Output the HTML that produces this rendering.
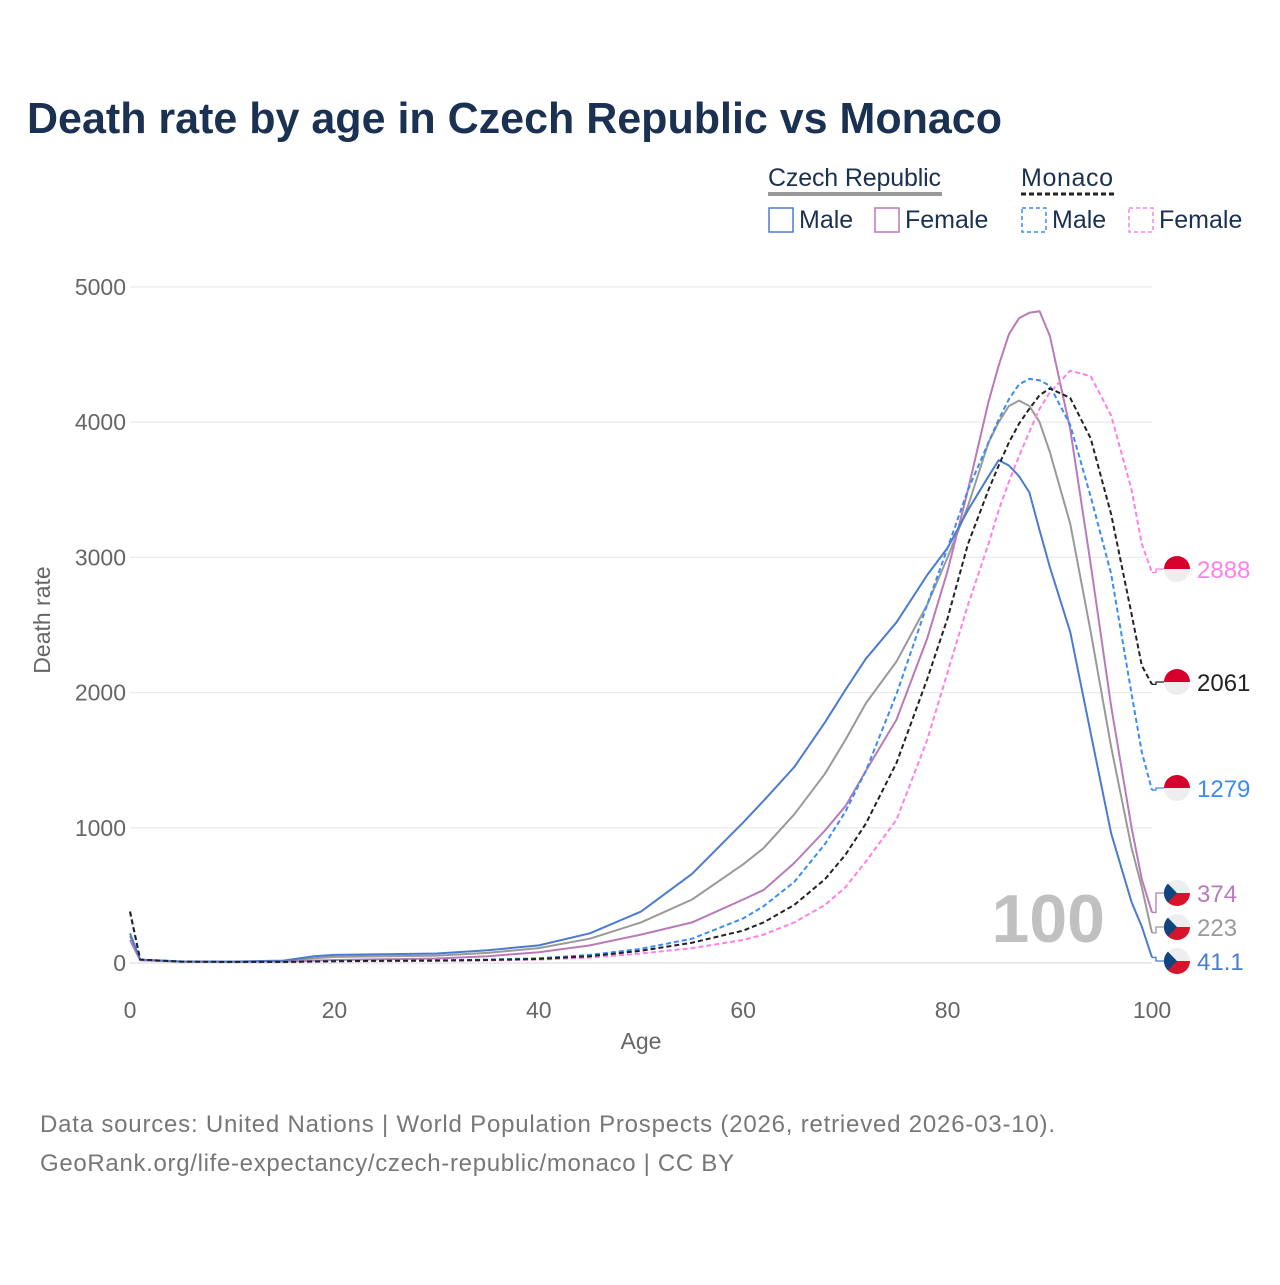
<!DOCTYPE html>
<html><head><meta charset="utf-8"><style>
body{margin:0;background:#fff;}
svg text{font-family:"Liberation Sans",sans-serif;}
</style></head><body>
<svg id="chart" width="1280" height="1280" viewBox="0 0 1280 1280" xmlns="http://www.w3.org/2000/svg">
<rect width="1280" height="1280" fill="#fff"/>
<text x="27" y="133" font-size="44" font-weight="bold" fill="#1b3152" textLength="975" lengthAdjust="spacingAndGlyphs">Death rate by age in Czech Republic vs Monaco</text>
<g font-size="25" fill="#1b3152">
<text x="768" y="186" fill="#1b3152" textLength="173">Czech Republic</text>
<line x1="768" y1="194" x2="942" y2="194" stroke="#999" stroke-width="4"/>
<text x="1021" y="186" fill="#1b3152" textLength="92">Monaco</text>
<line x1="1021" y1="194" x2="1114" y2="194" stroke="#222" stroke-width="3" stroke-dasharray="5,3"/>
<g><rect x="769" y="208" width="24" height="24" fill="none" stroke="#4a7bd0" stroke-width="1.5"/><text x="799" y="228">Male</text></g>
<g><rect x="875" y="208" width="24" height="24" fill="none" stroke="#b87ab8" stroke-width="1.5"/><text x="905" y="228">Female</text></g>
<g><rect x="1022" y="208" width="24" height="24" fill="none" stroke="#3b8cf5" stroke-width="1.5" stroke-dasharray="4,3"/><text x="1052" y="228">Male</text></g>
<g><rect x="1129" y="208" width="24" height="24" fill="none" stroke="#ff80e6" stroke-width="1.5" stroke-dasharray="4,3"/><text x="1159" y="228">Female</text></g>
</g>
<g id="grid"></g>
<text x="1105" y="942" font-size="68" font-weight="bold" fill="#c0c0c0" text-anchor="end">100</text>
<g id="series"></g>
<g id="labels"></g>
<text x="641" y="1049" font-size="23" fill="#666" text-anchor="middle">Age</text>
<text transform="translate(50,620) rotate(-90)" font-size="23" fill="#666" text-anchor="middle">Death rate</text>
<text x="40" y="1132" font-size="24" fill="#777" textLength="1015">Data sources: United Nations | World Population Prospects (2026, retrieved 2026-03-10).</text>
<text x="40" y="1171" font-size="24" fill="#777" textLength="694">GeoRank.org/life-expectancy/czech-republic/monaco | CC BY</text>
</svg>
<script>
const ages=[0,1,5,10,15,18,20,25,30,35,40,45,50,55,60,62,65,68,70,72,75,78,80,82,84,85,86,87,88,89,90,92,94,96,98,99,100];
const czMale=[220,25,12,10,18,50,60,65,70,95,130,220,380,660,1040,1200,1450,1780,2020,2250,2520,2870,3070,3350,3600,3720,3680,3600,3480,3200,2930,2450,1700,960,450,270,41.1];
const czTotal=[200,22,10,9,15,35,45,50,55,75,110,180,300,470,730,850,1100,1400,1650,1920,2230,2650,3000,3380,3850,4000,4120,4160,4120,4000,3780,3250,2450,1600,850,560,223];
const czFemale=[170,20,9,8,10,18,22,28,33,50,80,130,210,300,470,540,740,980,1160,1420,1800,2400,2900,3500,4150,4420,4650,4770,4810,4820,4640,3950,2950,1900,1000,620,374];
const mcMale=[380,25,10,8,8,12,15,18,20,25,35,60,105,180,330,420,600,880,1120,1420,1990,2650,3070,3500,3850,4020,4170,4280,4320,4310,4270,3980,3450,2880,1990,1560,1279];
const mcTotal=[380,25,10,8,8,11,13,16,18,22,30,50,90,150,240,300,430,620,800,1030,1480,2100,2550,3100,3500,3680,3850,3990,4100,4200,4250,4180,3880,3320,2580,2200,2061];
const mcFemale=[380,25,10,8,8,10,12,14,16,19,25,40,70,110,170,210,300,430,560,750,1060,1650,2150,2650,3100,3350,3560,3750,3930,4100,4220,4380,4340,4050,3500,3100,2888];
const yTicks=[0,1000,2000,3000,4000,5000];
const xTicks=[0,20,40,60,80,100];
const endLabels=["2888","2061","1279","374","223","41.1"];

const NS="http://www.w3.org/2000/svg";
const X=a=>130+a*10.22;
const Y=v=>963-v*0.1352;
function mk(t,attrs,parent){const e=document.createElementNS(NS,t);for(const k in attrs)e.setAttribute(k,attrs[k]);parent.appendChild(e);return e;}
const grid=document.getElementById('grid');
yTicks.forEach(v=>{
  const l=mk('line',{x1:130,x2:1152,y1:Y(v),y2:Y(v),stroke:v===0?'#ddd':'#ebebeb','stroke-width':1.3},grid);
  
  
  const t=mk('text',{x:126,y:Y(v)+8,'font-size':23,fill:'#666','text-anchor':'end'},grid);
  t.textContent=v;
  
  
});
xTicks.forEach(a=>{
  const t=mk('text',{x:X(a),y:1018,'font-size':23,fill:'#666','text-anchor':'middle'},grid);
  t.textContent=a;
  
  
});
const series=[
 {d:czTotal,c:'#999',dash:'',n:'line-cz-total',flag:'cz',ly:927},
 {d:czFemale,c:'#b87ab8',dash:'',n:'line-cz-female',flag:'cz',ly:893},
 {d:czMale,c:'#4a7bd0',dash:'',n:'line-cz-male',flag:'cz',ly:961},
 {d:mcFemale,c:'#ff80e6',dash:'5,3',n:'line-mc-female',flag:'mc',ly:569},
 {d:mcMale,c:'#3b8cf5',dash:'5,3',n:'line-mc-male',flag:'mc',ly:788},
 {d:mcTotal,c:'#222',dash:'5,3',n:'line-mc-total',flag:'mc',ly:682},
];
const sg=document.getElementById('series'),lg=document.getElementById('labels');
const labelText={'line-mc-female':endLabels[0],'line-mc-total':endLabels[1],'line-mc-male':endLabels[2],'line-cz-female':endLabels[3],'line-cz-total':endLabels[4],'line-cz-male':endLabels[5]};
series.forEach(s=>{
  const pts=ages.map((a,i)=>X(a).toFixed(1)+','+Y(s.d[i]).toFixed(1)).join(' ');
  const p=mk('polyline',{points:pts,fill:'none',stroke:s.c,'stroke-width':2,'stroke-dasharray':s.dash,'stroke-linejoin':'round'},sg);
  
  
  const ey=Y(s.d[s.d.length-1]);
  mk('polyline',{points:`1152,${ey} 1156,${ey} 1156,${s.ly} 1164,${s.ly}`,fill:'none',stroke:s.c,'stroke-width':1.3},lg);
  const g=mk('g',{},lg);
  
  
  const cx=1177,cy=s.ly,r=13;
  if(s.flag==='mc'){
    mk('path',{d:`M${cx-r},${cy} A${r},${r} 0 0 1 ${cx+r},${cy} Z`,fill:'#d7002c'},g);
    mk('path',{d:`M${cx-r},${cy} A${r},${r} 0 0 0 ${cx+r},${cy} Z`,fill:'#eee'},g);
  }else{
    mk('path',{d:`M${cx-r},${cy} A${r},${r} 0 0 1 ${cx+r},${cy} Z`,fill:'#eee'},g);
    mk('path',{d:`M${cx-r},${cy} A${r},${r} 0 0 0 ${cx+r},${cy} Z`,fill:'#d7142b'},g);
    mk('path',{d:`M${cx-r*0.7},${cy-r*0.72} L${cx},${cy} L${cx-r*0.7},${cy+r*0.72} A${r},${r} 0 0 1 ${cx-r*0.7},${cy-r*0.72} Z`,fill:'#11457e'},g);
  }
  const t=mk('text',{x:1197,y:s.ly+9,'font-size':24,fill:s.c},lg);
  t.textContent=labelText[s.n];
  
  
});
</script>
</body></html>
